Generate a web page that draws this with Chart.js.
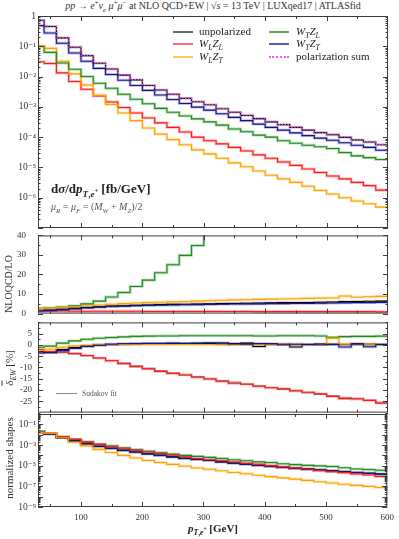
<!DOCTYPE html>
<html>
<head>
<meta charset="utf-8">
<script src="https://cdn.jsdelivr.net/npm/chart.js@4.4.1/dist/chart.umd.min.js"></script>
<style>
  html, body { margin: 0; padding: 0; background: #fff; overflow: hidden; }
  #wrap { position: relative; width: 399px; height: 539px; overflow: hidden;
          font-family: 'Liberation Serif', 'DejaVu Serif', serif; color: #222; }
  canvas { position: absolute; left: 0; }
  .txt { position: absolute; white-space: nowrap; line-height: 1; }
  .vt { position: absolute; white-space: nowrap; line-height: 1; transform: translate(-50%, -50%) rotate(-90deg); }
  .leg { position: absolute; white-space: nowrap; font-size: 11px; line-height: 12px; }
  .leg i.ln { display: inline-block; width: 20px; height: 0; border-top: 2px solid; vertical-align: middle; margin-right: 6px; }
  sub, sup { font-size: 70%; line-height: 0; }
</style>
</head>
<body>
<div id="wrap">
  <div class="txt" style="left:38px;width:350px;top:1px;text-align:center;font-size:10px;color:#333">
    <i>pp</i> → <i>e</i><sup>+</sup><i>ν<sub>e</sub></i> <i>μ</i><sup>+</sup><i>μ</i><sup>−</sup> at NLO QCD+EW | √<span style="text-decoration:overline"><i>s</i></span> = 13 TeV | LUXqed17 | ATLASfid
  </div>

  <canvas id="cMain" width="399" height="232" style="top:6px"></canvas>
  <canvas id="cRatio" width="399" height="113" style="top:218px"></canvas>
  <canvas id="cEW" width="399" height="113" style="top:311px"></canvas>
  <canvas id="cShape" width="399" height="135" style="top:404px"></canvas>

  <!-- legend -->
  <div class="leg" style="left:173px;top:25px"><i class="ln" style="border-color:#6a6a6a"></i>unpolarized</div>
  <div class="leg" style="left:173px;top:37px"><i class="ln" style="border-color:#ff6a6a"></i><i>W<sub>L</sub>Z<sub>L</sub></i></div>
  <div class="leg" style="left:173px;top:50px"><i class="ln" style="border-color:#ffc45a"></i><i>W<sub>L</sub>Z<sub>T</sub></i></div>
  <div class="leg" style="left:269px;top:25px"><i class="ln" style="border-color:#5aaa5a;margin-right:7px"></i><i>W<sub>T</sub>Z<sub>L</sub></i></div>
  <div class="leg" style="left:269px;top:37px"><i class="ln" style="border-color:#5a5abf;margin-right:7px"></i><i>W<sub>T</sub>Z<sub>T</sub></i></div>
  <div class="leg" style="left:269px;top:50px"><i class="ln" style="border-top:2px dotted #ff55ff;margin-right:7px"></i>polarization sum</div>

  <div class="txt" style="left:51px;top:182px;font-size:13px;font-weight:bold;color:#222">
    d<i>σ</i>/d<i>p</i><sub><i>T</i>,<i>e</i><sup>+</sup></sub> [fb/GeV]
  </div>
  <div class="txt" style="left:51px;top:202px;font-size:10px;color:#555">
    <i>μ<sub>R</sub></i> = <i>μ<sub>F</sub></i> = (<i>M<sub>W</sub></i> + <i>M<sub>Z</sub></i>)/2
  </div>

  <!-- Sudakov fit key -->
  <div style="position:absolute;left:56px;top:393px;width:21px;border-top:1px solid #8a8a8a"></div>
  <div class="txt" style="left:82px;top:390px;font-size:7.5px;color:#555">Sudakov fit</div>

  <!-- axis titles -->
  <div class="vt" style="left:9px;top:284px;font-size:10px;color:#333">NLOQCD/LO</div>
  <div class="vt" style="left:9px;top:368px;font-size:11px;color:#333"><i><span style="text-decoration:overline">δ</span><sub>EW</sub></i> [%]</div>
  <div class="vt" style="left:9px;top:458px;font-size:11px;color:#333">normalized shapes</div>
  <div class="txt" style="left:38px;width:350px;top:523px;text-align:center;font-size:11px;font-weight:bold;color:#222">
    <i>p</i><sub><i>T</i>,<i>e</i><sup>+</sup></sub> [GeV]
  </div>
</div>

<script>
// bin edges of p_T,e+ [GeV]
var binEdges = [30, 40, 60, 80, 100, 120, 140, 160, 180, 200, 220, 240, 260, 280, 300,
                320, 340, 360, 380, 400, 420, 440, 460, 480, 500, 520, 540, 560, 580, 600];
var xTickLabels = [100, 200, 300, 400, 500, 600];

// dsigma/dpT [fb/GeV]
var xsUnpol  = [7.2e-1, 4.5e-1, 1.9e-1, 9.3e-2, 4.9e-2, 2.75e-2, 1.78e-2, 1.12e-2, 7.8e-3, 5.1e-3, 3.6e-3, 2.6e-3, 1.9e-3, 1.48e-3, 1.17e-3,
                8.7e-4, 6.6e-4, 5.2e-4, 4.1e-4, 3.2e-4, 2.6e-4, 2.1e-4, 1.7e-4, 1.41e-4, 1.2e-4, 9.8e-5, 8.1e-5, 6.9e-5, 5.6e-5];
var xsPolSum = [7.3e-1, 4.6e-1, 1.9e-1, 9.4e-2, 5.0e-2, 2.8e-2, 1.8e-2, 1.14e-2, 7.9e-3, 5.2e-3, 3.6e-3, 2.65e-3, 1.95e-3, 1.5e-3, 1.2e-3,
                8.9e-4, 6.7e-4, 5.3e-4, 4.2e-4, 3.3e-4, 2.6e-4, 2.15e-4, 1.75e-4, 1.45e-4, 1.26e-4, 1.0e-4, 8.3e-5, 7.1e-5, 5.8e-5];
var xsTT     = [4.8e-1, 2.75e-1, 1.26e-1, 6.0e-2, 3.2e-2, 1.86e-2, 1.17e-2, 7.6e-3, 5.1e-3, 3.5e-3, 2.45e-3, 1.74e-3, 1.29e-3, 9.8e-4, 7.8e-4,
                5.9e-4, 4.5e-4, 3.5e-4, 2.7e-4, 2.1e-4, 1.7e-4, 1.38e-4, 1.12e-4, 9.3e-5, 7.9e-5, 6.5e-5, 5.4e-5, 4.6e-5, 3.7e-5];
var xsTL     = [9.8e-2, 6.3e-2, 2.8e-2, 1.74e-2, 1.0e-2, 6.0e-3, 4.1e-3, 2.6e-3, 1.78e-3, 1.26e-3, 8.9e-4, 6.6e-4, 5.0e-4, 4.0e-4, 3.2e-4,
                2.5e-4, 1.86e-4, 1.51e-4, 1.17e-4, 1.0e-4, 7.6e-5, 6.3e-5, 5.4e-5, 4.8e-5, 4.2e-5, 3.1e-5, 2.4e-5, 2.1e-5, 1.82e-5];
var xsLL     = [3.1e-2, 2.7e-2, 1.32e-2, 6.9e-3, 3.8e-3, 2.3e-3, 1.45e-3, 9.5e-4, 6.3e-4, 4.3e-4, 2.95e-4, 2.1e-4, 1.48e-4, 1.0e-4, 7.6e-5,
                6.0e-5, 4.6e-5, 3.5e-5, 2.6e-5, 2.0e-5, 1.51e-5, 1.17e-5, 8.9e-6, 6.8e-6, 5.2e-6, 4.2e-6, 3.2e-6, 2.5e-6, 1.78e-6];
var xsLT     = [1.05e-1, 8.5e-2, 3.2e-2, 1.23e-2, 5.2e-3, 2.4e-3, 1.2e-3, 6.3e-4, 3.5e-4, 2.0e-4, 1.26e-4, 8.3e-5, 5.6e-5, 3.8e-5, 2.8e-5,
                2.0e-5, 1.41e-5, 1.05e-5, 7.6e-6, 5.5e-6, 4.2e-6, 3.2e-6, 2.4e-6, 1.74e-6, 1.32e-6, 1.0e-6, 7.8e-7, 6.3e-7, 4.9e-7];

// NLO QCD / LO
var rtUnpol = [1.6, 1.8, 2.2, 2.7, 3.1, 3.5, 3.8, 4.0, 4.2, 4.4, 4.6, 4.7, 4.8, 4.9, 5.0, 5.1, 5.2, 5.3, 5.4, 5.5, 5.6, 5.6, 5.7, 5.8, 5.9, 6.1, 6.2, 6.3, 6.4];
var rtTT    = [1.3, 1.5, 1.9, 2.4, 2.9, 3.3, 3.6, 3.8, 4.0, 4.2, 4.3, 4.4, 4.5, 4.6, 4.7, 4.8, 4.9, 4.9, 5.0, 5.1, 5.1, 5.2, 5.2, 5.3, 5.4, 5.5, 5.6, 5.6, 5.7];
var rtLT    = [2.6, 2.8, 3.2, 3.6, 4.0, 4.4, 4.8, 5.1, 5.4, 5.6, 5.8, 6.0, 6.2, 6.4, 6.6, 6.8, 7.0, 7.1, 7.3, 7.4, 7.5, 7.6, 7.8, 7.9, 8.0, 9.0, 8.4, 8.6, 8.8];
var rtLL    = [1.4, 1.3, 1.3, 1.2, 1.2, 1.2, 1.2, 1.2, 1.2, 1.1, 1.1, 1.1, 1.1, 1.1, 1.1, 1.1, 1.1, 1.1, 1.0, 1.0, 1.0, 1.0, 1.0, 1.0, 1.0, 1.0, 1.0, 1.0, 0.9];
var rtTL    = [2.7, 2.9, 3.3, 4.0, 5.0, 6.4, 8.5, 10.8, 13.9, 17.1, 20.9, 25.0, 29.8, 34.8, 41, 47, 53, 60, 66, 73, 80, 87, 94, 101, 108, 115, 122, 129, 136];

// delta_EW [%]
var ewUnpol   = [-3.0, -3.3, -2.0, -1.2, -0.5, -0.1, 0.2, 0.4, 0.5, 0.5, 0.5, 0.6, 0.6, 0.6, 0.6, 0.4, 0.6, 0.8, -0.7, 0.5, 0.3, -0.9, 0.2, 0.4, 0.3, 0.2, 0.5, 0.3, 0.2];
var ewTT      = [-3.6, -3.4, -2.5, -1.5, -0.6, -0.1, 0.3, 0.5, 0.6, 0.7, 0.7, 0.8, 0.7, 0.8, 0.9, 0.9, 0.4, 0.3, 0.6, 0.4, 0.1, 0.3, 0.2, 0.1, 0.2, -0.9, 0.3, -0.8, 0.2];
var ewLT      = [-2.4, -1.9, -1.0, -0.4, -0.1, 0.1, 0.2, 0.2, 0.2, 0.2, 0.2, 0.2, 0.2, 0.2, 0.2, 0.1, 0.1, 0.2, 0.1, 0.2, 0.3, 0.1, 0.2, 0.1, 2.9, 0.3, 0.2, 0.3, 0.1];
var ewTL      = [-1.0, -0.5, 0.8, 1.8, 2.5, 3.0, 3.3, 3.6, 3.8, 3.9, 4.0, 4.0, 4.1, 4.1, 4.1, 4.1, 4.1, 4.1, 4.0, 4.0, 4.1, 4.1, 4.1, 4.0, 3.4, 3.7, 3.8, 3.8, 3.9];
var ewLL      = [-2.0, -3.0, -3.1, -3.8, -4.7, -5.8, -7.0, -8.3, -9.6, -10.6, -11.7, -12.6, -13.3, -14.3, -15.1, -16.1, -17.0, -17.4, -18.3, -19.0, -19.5, -20.3, -21.0, -21.7, -22.8, -23.8, -24.0, -24.6, -25.8];
var ewSudakov = [-2.4, -2.9, -3.4, -4.0, -4.8, -5.8, -6.9, -8.0, -9.3, -10.4, -11.5, -12.5, -13.3, -14.0, -15.0, -15.8, -16.5, -17.3, -18.1, -18.9, -19.6, -20.4, -21.2, -21.9, -22.5, -23.2, -23.7, -24.6, -25.4];

// normalized shapes
var shUnpol = [1.95e-2, 1.2e-2, 5.1e-3, 2.5e-3, 1.32e-3, 7.4e-4, 4.8e-4, 3.0e-4, 2.1e-4, 1.38e-4, 9.8e-5, 7.1e-5, 5.1e-5, 4.0e-5, 3.2e-5,
               2.35e-5, 1.78e-5, 1.41e-5, 1.1e-5, 8.7e-6, 6.9e-6, 5.6e-6, 4.6e-6, 3.8e-6, 3.2e-6, 2.6e-6, 2.2e-6, 1.86e-6, 1.51e-6];
var shTT    = [1.95e-2, 1.12e-2, 5.1e-3, 2.45e-3, 1.32e-3, 7.6e-4, 4.8e-4, 3.1e-4, 2.1e-4, 1.41e-4, 1.0e-4, 7.1e-5, 5.2e-5, 4.0e-5, 3.2e-5,
               2.4e-5, 1.82e-5, 1.41e-5, 1.1e-5, 8.7e-6, 6.9e-6, 5.6e-6, 4.6e-6, 3.8e-6, 3.2e-6, 2.6e-6, 2.2e-6, 1.86e-6, 1.51e-6];
var shTL    = [1.95e-2, 1.26e-2, 5.6e-3, 3.5e-3, 2.0e-3, 1.2e-3, 8.1e-4, 5.2e-4, 3.5e-4, 2.5e-4, 1.78e-4, 1.32e-4, 1.0e-4, 7.9e-5, 6.3e-5,
               5.0e-5, 3.7e-5, 3.0e-5, 2.35e-5, 2.0e-5, 1.51e-5, 1.26e-5, 1.07e-5, 9.5e-6, 8.3e-6, 6.2e-6, 4.8e-6, 4.2e-6, 3.6e-6];
var shLL    = [1.55e-2, 1.35e-2, 6.6e-3, 3.5e-3, 1.9e-3, 1.15e-3, 7.2e-4, 4.8e-4, 3.2e-4, 2.1e-4, 1.48e-4, 1.05e-4, 7.4e-5, 5.0e-5, 3.8e-5,
               3.0e-5, 2.3e-5, 1.74e-5, 1.32e-5, 1.0e-5, 7.6e-6, 5.9e-6, 4.5e-6, 3.4e-6, 2.6e-6, 2.1e-6, 1.62e-6, 1.26e-6, 8.9e-7];
var shLT    = [1.66e-2, 1.35e-2, 5.0e-3, 1.95e-3, 8.3e-4, 3.8e-4, 1.9e-4, 1.0e-4, 5.6e-5, 3.2e-5, 2.0e-5, 1.32e-5, 8.9e-6, 6.0e-6, 4.5e-6,
               3.2e-6, 2.2e-6, 1.66e-6, 1.2e-6, 8.7e-7, 6.6e-7, 5.0e-7, 3.8e-7, 2.75e-7, 2.1e-7, 1.58e-7, 1.23e-7, 1.0e-7, 7.8e-8];

// colours: line + light band
var colUnpol = ['#000000', 'rgba(80,80,80,0.28)'];
var colLL    = ['#ff1a1a', 'rgba(255,70,70,0.38)'];
var colLT    = ['#ffa200', 'rgba(255,190,70,0.45)'];
var colTL    = ['#1d8c1d', 'rgba(70,165,70,0.4)'];
var colTT    = ['#15158a', 'rgba(80,80,190,0.38)'];

Chart.defaults.font.family = "'Liberation Serif', 'DejaVu Serif', serif";
Chart.defaults.color = '#333';

// histogram points: value of bin i held from edge i to edge i+1
function steps(vals) {
    return binEdges.map(function (e, i) {
        return { x: e, y: vals[Math.min(i, vals.length - 1)] };
    });
}

// line on top of a lighter, wider band; higher order is drawn underneath
function histo(vals, col, order) {
    order = order || 1;
    return [
        { data: steps(vals), borderColor: col[0], borderWidth: 1.1, stepped: true, pointRadius: 0, fill: false, order: order },
        { data: steps(vals), borderColor: col[1], borderWidth: 2.8, stepped: true, pointRadius: 0, fill: false, order: 5 }
    ];
}

var SUP = { '-': '⁻', '0': '⁰', '1': '¹', '2': '²', '3': '³', '4': '⁴', '5': '⁵', '6': '⁶', '7': '⁷', '8': '⁸', '9': '⁹' };
function powLabel(e) {
    if (e === 0) return '1';
    return '10' + String(e).split('').map(function (c) { return SUP[c]; }).join('');
}

function logAxis(min, max, show, pad) {
    return {
        type: 'logarithmic', min: min, max: max,
        afterFit: function (s) { s.width = 38; },
        afterBuildTicks: function (s) {
            var t = [];
            var e0 = Math.round(Math.log10(min)), e1 = Math.round(Math.log10(max));
            for (var e = e0; e < e1; e++) {
                for (var m = 1; m < 10; m++) t.push({ value: m * Math.pow(10, e), major: m === 1 });
            }
            t.push({ value: max, major: true });
            s.ticks = t;
        },
        grid: { display: false, drawTicks: false },
        border: { display: false },
        ticks: {
            autoSkip: false, padding: pad, font: { size: 9.5 }, color: '#333',
            callback: function (v, i, ticks) {
                var e = Math.round(Math.log10(v));
                return (ticks[i].major && show(e)) ? powLabel(e) : '';
            }
        }
    };
}

function linAxis(min, max, step, every, hide, pad) {
    return {
        type: 'linear', min: min, max: max,
        afterFit: function (s) { s.width = 38; },
        grid: { display: false, drawTicks: false },
        border: { display: false },
        ticks: {
            stepSize: step, autoSkip: false, padding: pad, font: { size: 9 }, color: '#333',
            callback: function (v) {
                if (Math.abs(v % every) > 1e-9 || hide.indexOf(v) >= 0) return '';
                return String(v);
            }
        }
    };
}

// frame and inward tick marks on all four sides
var frameTicks = {
    id: 'frameTicks',
    afterDraw: function (chart) {
        var ctx = chart.ctx, a = chart.chartArea, x = chart.scales.x, y = chart.scales.y;
        ctx.save();
        ctx.strokeStyle = '#3c3c3c';
        ctx.lineWidth = 1;
        ctx.beginPath();
        for (var v = Math.ceil(x.min / 50) * 50; v < x.max; v += 50) {
            var px = Math.round(x.getPixelForValue(v)) + 0.5;
            var len = v % 100 === 0 ? 5 : 3;
            ctx.moveTo(px, a.top); ctx.lineTo(px, a.top + len);
            ctx.moveTo(px, a.bottom); ctx.lineTo(px, a.bottom - len);
        }
        y.ticks.forEach(function (t) {
            var py = Math.round(y.getPixelForValue(t.value)) + 0.5;
            var big = y.type === 'logarithmic' ? t.major : t.label !== '';
            var l = big ? 5 : 2.5;
            ctx.moveTo(a.left, py); ctx.lineTo(a.left + l, py);
            ctx.moveTo(a.right, py); ctx.lineTo(a.right - l, py);
        });
        ctx.stroke();
        ctx.strokeRect(a.left + 0.5, a.top + 0.5, a.right - a.left - 1, a.bottom - a.top - 1);
        ctx.restore();
    }
};

function makePanel(id, datasets, yAxis, xAxis, pad) {
    return new Chart(document.getElementById(id), {
        type: 'line',
        data: { datasets: datasets },
        options: {
            responsive: false,
            animation: false,
            events: [],
            layout: { padding: pad },
            plugins: { legend: { display: false }, tooltip: { enabled: false } },
            scales: { x: xAxis, y: yAxis }
        },
        plugins: [frameTicks]
    });
}

function hiddenX() {
    return { type: 'linear', min: 30, max: 600, display: false };
}

// main panel
var mainSets = [].concat(
    [{ data: steps(xsPolSum), borderColor: '#ff44ff', borderWidth: 1.2, borderDash: [1.5, 1.5], stepped: true, pointRadius: 0, fill: false, order: 0 }],
    histo(xsUnpol, colUnpol), histo(xsTT, colTT), histo(xsTL, colTL), histo(xsLT, colLT), histo(xsLL, colLL)
);
makePanel('cMain', mainSets, logAxis(1e-7, 1, function (e) { return e > -7; }, 2), hiddenX(),
          { top: 10, bottom: 10, left: 0, right: 11 });

// NLO QCD / LO
var ratioSets = [].concat(
    histo(rtUnpol, colUnpol, 2), histo(rtTT, colTT), histo(rtLT, colLT), histo(rtLL, colLL), histo(rtTL, colTL)
);
makePanel('cRatio', ratioSets, linAxis(0, 40, 5, 10, [], 12), hiddenX(),
          { top: 10, bottom: 10, left: 0, right: 11 });

// delta EW
var ewSets = [].concat(
    [{ data: steps(ewSudakov), borderColor: 'rgba(120,120,120,0.9)', borderWidth: 1.1, stepped: true, pointRadius: 0, fill: false, order: 3 }],
    histo(ewUnpol, colUnpol, 2), histo(ewTT, colTT), histo(ewLT, colLT), histo(ewTL, colTL), histo(ewLL, colLL)
);
makePanel('cEW', ewSets, linAxis(-30, 10, 2.5, 5, [10, -30], 6), hiddenX(),
          { top: 10, bottom: 10, left: 0, right: 11 });

// normalized shapes
var shapeSets = [].concat(
    histo(shUnpol, colUnpol, 2), histo(shLT, colLT), histo(shLL, colLL), histo(shTL, colTL), histo(shTT, colTT)
);
makePanel('cShape', shapeSets,
          logAxis(1e-9, 1, function (e) { return e < 0 && e % 2 !== 0; }, 2),
          {
              type: 'linear', min: 30, max: 600,
              afterFit: function (s) { s.height = 16; },
              afterBuildTicks: function (s) { s.ticks = xTickLabels.map(function (v) { return { value: v }; }); },
              grid: { display: false, drawTicks: false },
              border: { display: false },
              ticks: { padding: 5, autoSkip: false, maxRotation: 0, font: { size: 9 }, color: '#333' }
          },
          { top: 10, bottom: 16, left: 0, right: 11 });
</script>
</body>
</html>
